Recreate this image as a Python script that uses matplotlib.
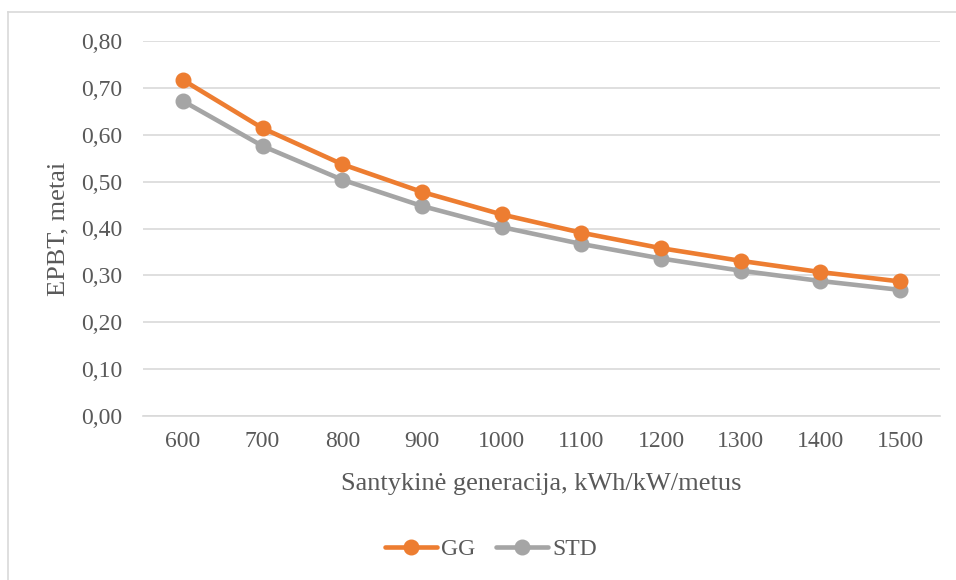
import matplotlib
matplotlib.use("Agg")
import matplotlib.pyplot as plt
from matplotlib.lines import Line2D
from matplotlib.ticker import FuncFormatter

categories = ["600", "700", "800", "900", "1000", "1100", "1200", "1300", "1400", "1500"]
gg = [0.717, 0.614, 0.537, 0.478, 0.430, 0.391, 0.358, 0.331, 0.307, 0.287]
std = [0.672, 0.576, 0.504, 0.448, 0.403, 0.367, 0.336, 0.310, 0.288, 0.269]
y_ticks = [0.0, 0.1, 0.2, 0.3, 0.4, 0.5, 0.6, 0.7, 0.8]

plt.rcParams['font.family'] = ['Liberation Serif', 'DejaVu Serif']
text_col = '#595959'

fig = plt.figure(figsize=(9.56, 5.8), dpi=100)
ax = fig.add_axes([143/956, 1-416/580, (940-143)/956, (416-41)/580])

x = list(range(len(categories)))
ax.plot(x, gg, color='#ED7D31', lw=3.3, marker='o', ms=10.5, label='GG', solid_capstyle='round', zorder=3)
ax.plot(x, std, color='#A5A5A5', lw=3.3, marker='o', ms=10.5, label='STD', solid_capstyle='round', zorder=2)

ax.set_xlim(-0.5, len(categories) - 0.5)
ax.set_ylim(0, 0.8)
ax.set_yticks(y_ticks)
ax.yaxis.set_major_formatter(FuncFormatter(lambda v, p: f"{v:.2f}".replace('.', ',')))
ax.set_xticks(x)
ax.set_xticklabels(categories)
ax.grid(axis='y', color='#D9D9D9', lw=1.2)
ax.set_axisbelow(True)
for s in ['top', 'right', 'left']:
    ax.spines[s].set_visible(False)
ax.spines['bottom'].set_color('#D9D9D9')
ax.spines['bottom'].set_linewidth(1.2)
ax.tick_params(axis='both', length=0, labelsize=17, colors=text_col)
ax.tick_params(axis='y', pad=15)
ax.tick_params(axis='x', pad=11)

ax.set_xlabel('Santykinė generacija, kWh/kW/metus', fontsize=19, color=text_col, va='center')
ax.xaxis.set_label_coords(0.5, (416-484)/375)
ax.set_ylabel('EPBT, metai', fontsize=19, color=text_col, va='center')
ax.yaxis.set_label_coords((58-143)/797, 0.5)

leg = fig.legend(loc='center', bbox_to_anchor=(491/956, 1-549/580), ncol=2, frameon=False,
                 fontsize=17, handlelength=2.2, handletextpad=0.2, columnspacing=0.85)
for t in leg.get_texts():
    t.set_color(text_col)

# chart border
fig.add_artist(Line2D([8/956, 8/956], [0, 1-12/580], transform=fig.transFigure, color='#D9D9D9', lw=1.2))
fig.add_artist(Line2D([8/956, 1], [1-12/580, 1-12/580], transform=fig.transFigure, color='#D9D9D9', lw=1.2))

fig.savefig('out.png', dpi=100)
